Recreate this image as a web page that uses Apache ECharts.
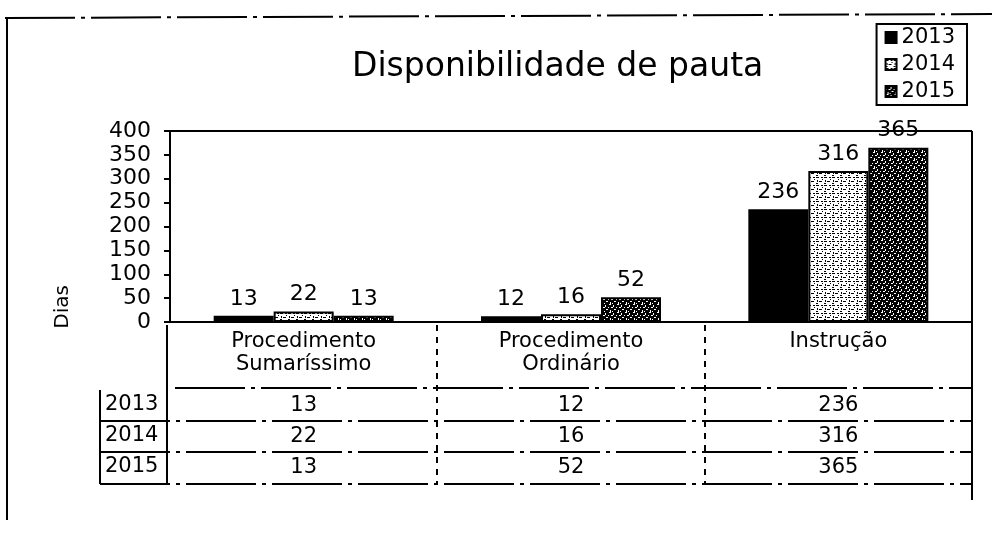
<!DOCTYPE html>
<html><head><meta charset="utf-8">
<script src="https://cdn.jsdelivr.net/npm/echarts@6/dist/echarts.min.js"></script>
<style>html,body{margin:0;padding:0;background:#fff}#c{width:992px;height:544px}</style>
</head><body><div id="c"></div>
<script>
const categories = ['Procedimento\nSumaríssimo', 'Procedimento\nOrdinário', 'Instrução'];
const years = ['2013', '2014', '2015'];
const v2013 = [13, 12, 236];
const v2014 = [22, 16, 316];
const v2015 = [13, 52, 365];
const yTicks = [0, 50, 100, 150, 200, 250, 300, 350, 400];

function makePattern(kind) {
  const c = document.createElement('canvas');
  c.width = 8; c.height = 8;
  const g = c.getContext('2d');
  if (kind === 'light') {
    g.fillStyle = '#fff'; g.fillRect(0, 0, 8, 8);
    g.fillStyle = '#000';
    g.fillRect(0, 1, 3, 1); g.fillRect(5, 1, 2, 1);
    g.fillRect(1, 4, 1, 2); g.fillRect(3, 5, 3, 1);
    g.fillRect(6, 3, 1, 1); g.fillRect(0, 7, 2, 1);
  } else {
    g.fillStyle = '#000'; g.fillRect(0, 0, 8, 8);
    g.fillStyle = '#fff';
    g.fillRect(1, 0, 2, 1); g.fillRect(5, 1, 1, 2);
    g.fillRect(0, 3, 1, 1); g.fillRect(3, 3, 2, 1);
    g.fillRect(6, 5, 2, 1); g.fillRect(2, 6, 1, 2);
    g.fillRect(4, 7, 1, 1);
  }
  return { image: c, repeat: 'repeat' };
}

const FONT = 'DejaVu Sans';
const chart = echarts.init(document.getElementById('c'));
const seriesVals = [v2013, v2014, v2015];
const fills = ['#000', makePattern('light'), makePattern('dark')];

const tableRows = years.map((y, i) => ({
  type: 'category', gridIndex: 0, position: 'bottom', data: categories,
  offset: 84 + i * 31,
  axisLine: { show: false }, axisTick: { show: false },
  axisLabel: { margin: 0, verticalAlign: 'middle', fontFamily: FONT, fontSize: 21, color: '#000',
    formatter: (val, idx) => String(seriesVals[i][idx]) }
}));

const solid = { stroke: '#000', lineWidth: 2 };
const dashed = { stroke: '#000', lineWidth: 2, lineDash: [70, 6, 4, 6] };

const option = {
  animation: false,
  backgroundColor: '#fff',
  title: { text: 'Disponibilidade de pauta', left: 347, top: 46,
    textStyle: { fontFamily: FONT, fontWeight: 'normal', fontSize: 33, color: '#000' } },
  legend: {
    orient: 'vertical', right: 25, top: 24, itemWidth: 11, itemHeight: 11, itemGap: 6,
    icon: 'rect',
    borderColor: '#000', borderWidth: 2, padding: [3, 12, 3, 8],
    textStyle: { fontFamily: FONT, fontSize: 21, color: '#000', padding: [0, 0, 0, 0] },
    data: years
  },
  grid: { left: 170, right: 20, top: 131, bottom: 222 },
  xAxis: [{
    type: 'category', data: categories,
    axisLine: { lineStyle: { color: '#000', width: 2 } },
    axisTick: { show: false },
    axisLabel: { fontFamily: FONT, fontSize: 21, color: '#000', lineHeight: 23, margin: 8 }
  }].concat(tableRows),
  yAxis: {
    type: 'value', min: 0, max: 400, interval: 50,
    axisLine: { show: true, lineStyle: { color: '#000', width: 2 } },
    axisTick: { show: true, inside: false, length: 6, lineStyle: { color: '#000', width: 2 } },
    splitLine: { show: false },
    axisLabel: { fontFamily: FONT, fontSize: 22, color: '#000', margin: 19,
      formatter: v => yTicks.indexOf(v) >= 0 ? String(v) : '' }
  },
  series: years.map((y, i) => ({
    name: y, type: 'bar', data: seriesVals[i], barWidth: 60, barGap: '0%',
    itemStyle: { color: fills[i], borderColor: '#000', borderWidth: 2 },
    label: { show: true, position: 'top', distance: 6, fontFamily: FONT, fontSize: 22, color: '#000' }
  })),
  graphic: [
    { type: 'text', left: 53, top: 285, rotation: Math.PI / 2,
      style: { text: 'Dias', fontFamily: FONT, fontSize: 20, fill: '#000' } },
    { type: 'line', shape: { x1: 5, y1: 18, x2: 992, y2: 14 }, style: dashed },
    { type: 'line', shape: { x1: 7, y1: 18, x2: 7, y2: 520 }, style: solid },
    { type: 'line', shape: { x1: 170, y1: 131, x2: 972, y2: 131 }, style: solid },
    { type: 'line', shape: { x1: 972, y1: 131, x2: 972, y2: 500 }, style: solid },
    { type: 'line', shape: { x1: 175, y1: 388, x2: 972, y2: 388 }, style: dashed },
    { type: 'line', shape: { x1: 100, y1: 421, x2: 972, y2: 421 }, style: dashed },
    { type: 'line', shape: { x1: 100, y1: 452, x2: 972, y2: 452 }, style: dashed },
    { type: 'line', shape: { x1: 100, y1: 484, x2: 972, y2: 484 }, style: dashed },
    { type: 'line', shape: { x1: 100, y1: 390, x2: 100, y2: 484 }, style: solid },
    { type: 'line', shape: { x1: 167, y1: 325, x2: 167, y2: 484 }, style: solid },
    { type: 'line', shape: { x1: 437, y1: 325, x2: 437, y2: 484 }, style: { stroke: '#000', lineWidth: 2, lineDash: [6, 6] } },
    { type: 'line', shape: { x1: 705, y1: 325, x2: 705, y2: 484 }, style: { stroke: '#000', lineWidth: 2, lineDash: [6, 6] } }
  ].concat(years.map((y, i) => ({
    type: 'text', left: 105, top: 394 + i * 31,
    style: { text: y, fontFamily: FONT, fontSize: 21, fill: '#000' }
  })))
};
chart.setOption(option);
</script></body></html>
